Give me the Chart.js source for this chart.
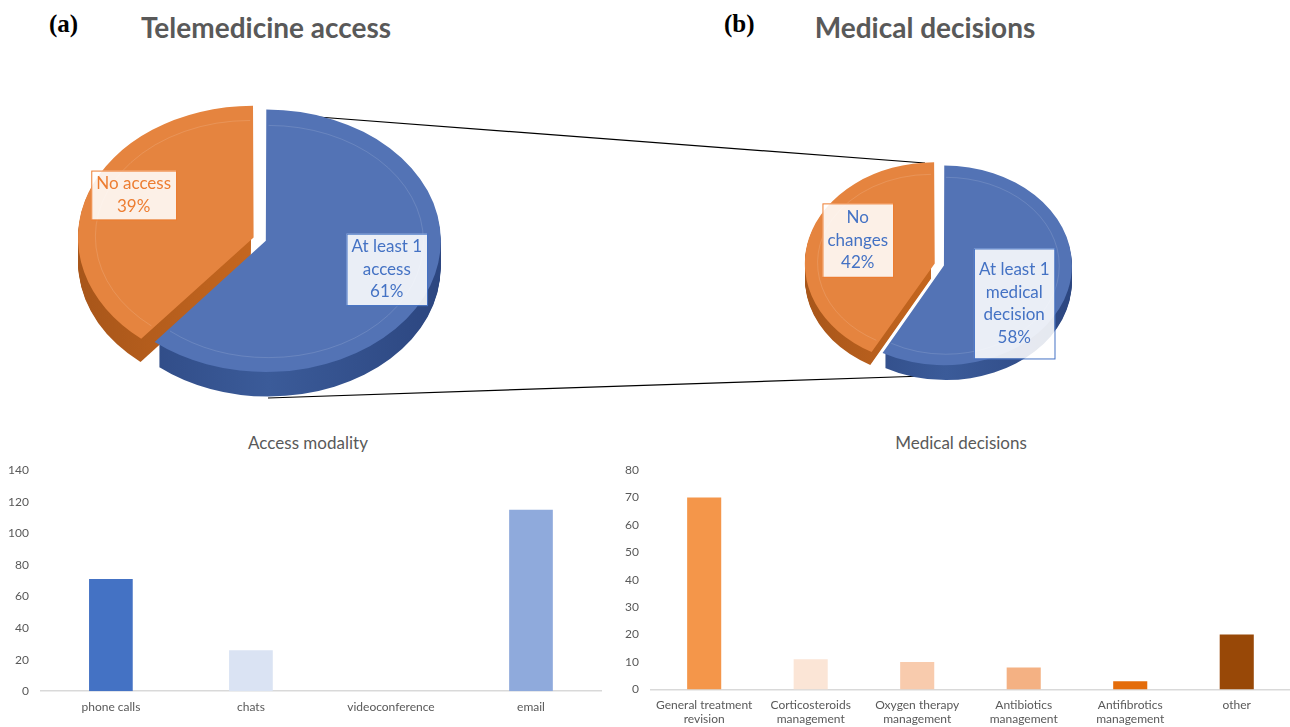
<!DOCTYPE html>
<html>
<head>
<meta charset="utf-8">
<script src="https://cdn.jsdelivr.net/npm/chart.js@4.4.0/dist/chart.umd.min.js"></script>
<style>
body { margin: 0; width: 1290px; height: 727px; overflow: hidden; background: #fff; position: relative; font-family: Lato, "Open Sans", sans-serif; }
.box { position: absolute; }
.tag { position: absolute; font-family: "Liberation Serif", serif; font-weight: bold; font-size: 25px; line-height: 28px; color: #000; }
.head { position: absolute; font-weight: bold; font-size: 28px; line-height: 34px; color: #595959; transform: translateX(-50%); white-space: nowrap; }
.sub { position: absolute; font-size: 17px; line-height: 20px; color: #595959; transform: translateX(-50%); white-space: nowrap; }
svg { position: absolute; left: 0; top: 0; }
</style>
</head>
<body>
<div class="tag" style="left:49px; top:10px;">(a)</div>
<div class="head" style="left:266px; top:10px;">Telemedicine access</div>
<div class="tag" style="left:724px; top:10px;">(b)</div>
<div class="head" style="left:925px; top:10px;">Medical decisions</div>

<svg width="1290" height="727">
  <line x1="318" y1="117" x2="925" y2="163" stroke="#000" stroke-width="1.2"/>
  <line x1="268" y1="398" x2="925" y2="376" stroke="#000" stroke-width="1.2"/>
</svg>

<div class="box" style="left:33px; top:60px;"><canvas id="pieA" width="460" height="360"></canvas></div>
<div class="box" style="left:792px; top:140px;"><canvas id="pieB" width="300" height="250"></canvas></div>

<div class="sub" style="left:308px; top:433px;">Access modality</div>
<div class="sub" style="left:961px; top:433px;">Medical decisions</div>
<div class="box" style="left:-4px; top:451px;"><canvas id="barA" width="614" height="276"></canvas></div>
<div class="box" style="left:613px; top:451px;"><canvas id="barB" width="677" height="284"></canvas></div>

<script>
// pie data
const pieALabels = [['At least 1', 'access'], ['No access']];
const pieAValues = [61, 39];
const pieBLabels = [['At least 1', 'medical', 'decision'], ['No', 'changes']];
const pieBValues = [58, 42];
const pieColors = ['#5373B5', '#E5843F'];
const pieSideColors = ['#3B5B99', '#C4661F'];

// bar data
const accessLabels = ['phone calls', 'chats', 'videoconference', 'email'];
const accessValues = [71, 26, 0, 115];
const accessColors = ['#4472C4', '#DAE3F3', '#2F5597', '#8FAADC'];
const accessTicks = [0, 20, 40, 60, 80, 100, 120, 140];

const decisionLabels = [['General treatment', 'revision'], ['Corticosteroids', 'management'], ['Oxygen therapy', 'management'], ['Antibiotics', 'management'], ['Antifibrotics', 'management'], 'other'];
const decisionValues = [70, 11, 10, 8, 3, 20];
const decisionColors = ['#F4964A', '#FBE5D6', '#F8CBAD', '#F4B183', '#E46C0A', '#984807'];
const decisionTicks = [0, 10, 20, 30, 40, 50, 60, 70, 80];

Chart.defaults.font.family = 'Lato, "Open Sans", sans-serif';
Chart.defaults.color = '#595959';

// same shift that the arc element uses for its offset
function arcShift(arc) {
  const o = (arc.options.offset || 0) / 4;
  const circ = arc.endAngle - arc.startAngle;
  const fix = 1 - Math.sin(Math.min(Math.PI, circ));
  const h = (arc.startAngle + arc.endAngle) / 2;
  return [Math.cos(h) * o * (1 + fix), Math.sin(h) * o * (1 + fix)];
}

const pie3d = {
  id: 'pie3d',
  beforeDatasetsDraw(chart, args, opts) {
    const ctx = chart.ctx;
    const arcs = chart.getDatasetMeta(0).data;
    const cx = arcs[0].x, cy = arcs[0].y;
    ctx.save();
    ctx.translate(cx, cy);
    ctx.scale(1, opts.tilt);
    ctx.translate(-cx, -cy);
    for (let d = opts.depth; d >= 1; d--) {
      arcs.forEach((arc, i) => {
        const s = arcShift(arc);
        const x = arc.x + s[0], y = arc.y + s[1] + d / opts.tilt;
        const g = ctx.createLinearGradient(x - arc.outerRadius, 0, x + arc.outerRadius, 0);
        g.addColorStop(0, opts.shade[i]);
        g.addColorStop(0.5, opts.side[i]);
        g.addColorStop(1, opts.shade[i]);
        ctx.beginPath();
        ctx.moveTo(x, y);
        ctx.arc(x, y, arc.outerRadius, arc.startAngle, arc.endAngle);
        ctx.closePath();
        ctx.fillStyle = g;
        ctx.fill();
      });
    }
  },
  afterDatasetsDraw(chart) {
    const ctx = chart.ctx;
    // faint bevel line on the top face
    chart.getDatasetMeta(0).data.forEach(arc => {
      const s = arcShift(arc);
      ctx.beginPath();
      ctx.arc(arc.x + s[0], arc.y + s[1], arc.outerRadius * 0.9, arc.startAngle, arc.endAngle);
      ctx.strokeStyle = 'rgba(255,255,255,0.15)';
      ctx.lineWidth = 1;
      ctx.stroke();
    });
    ctx.restore();
  },
  afterDraw(chart, args, opts) {
    const ctx = chart.ctx;
    const values = chart.data.datasets[0].data;
    const total = values.reduce((a, b) => a + b, 0);
    chart.getDatasetMeta(0).data.forEach((arc, i) => {
      const s = arcShift(arc);
      const h = (arc.startAngle + arc.endAngle) / 2;
      const r = arc.outerRadius * opts.labelRadius[i];
      const x = arc.x + s[0] + Math.cos(h) * r;
      const y = arc.y + (s[1] + Math.sin(h) * r) * opts.tilt + opts.labelDy[i];
      const lines = opts.lines[i].concat([Math.round(values[i] / total * 100) + '%']);
      ctx.font = '17px Lato, "Open Sans", sans-serif';
      const w = Math.max(...lines.map(t => ctx.measureText(t).width)) + 10;
      const lh = 22.5;
      const bh = lines.length * lh + 2 * opts.boxPad[i];
      ctx.fillStyle = 'rgba(255,255,255,0.88)';
      ctx.fillRect(x - w / 2, y - bh / 2, w, bh);
      ctx.strokeStyle = opts.boxColors[i];
      ctx.lineWidth = 1;
      ctx.strokeRect(x - w / 2 + 0.5, y - bh / 2 + 0.5, w, bh);
      ctx.fillStyle = opts.textColors[i];
      ctx.textAlign = 'center';
      ctx.textBaseline = 'middle';
      lines.forEach((t, k) => ctx.fillText(t, x, y - bh / 2 + opts.boxPad[i] + lh * (k + 0.5)));
    });
  }
};

function makePie(id, labels, values, cfg) {
  return new Chart(document.getElementById(id), {
    type: 'pie',
    data: {
      labels: labels.map(l => l.join(' ')),
      datasets: [{ data: values, backgroundColor: pieColors, borderWidth: 0, offset: cfg.offsets, clip: false }]
    },
    options: {
      responsive: false,
      animation: false,
      radius: cfg.radius,
      plugins: {
        legend: { display: false },
        tooltip: { enabled: false },
        pie3d: {
          tilt: cfg.tilt,
          depth: cfg.depth,
          side: pieSideColors,
          shade: ['#2C4680', '#A8561A'],
          lines: labels,
          labelRadius: cfg.labelRadius,
          labelDy: cfg.labelDy,
          boxPad: cfg.boxPad,
          boxColors: ['#4472C4', '#ED7D31'],
          textColors: cfg.textColors
        }
      }
    },
    plugins: [pie3d]
  });
}

makePie('pieA', pieALabels, pieAValues, {
  radius: 172, tilt: 0.75, depth: 26, offsets: [12, 40],
  labelRadius: [0.73, 0.72], labelDy: [-4, -10], boxPad: [2, 2],
  textColors: ['#4472C4', '#ED7D31']
});
makePie('pieB', pieBLabels, pieBValues, {
  radius: 126, tilt: 0.78, depth: 16, offsets: [8, 30],
  labelRadius: [0.56, 0.6], labelDy: [24, -8], boxPad: [10, 3],
  textColors: ['#4472C4', '#4472C4']
});

function makeBar(id, labels, values, colors, ticks, barPct, pad) {
  return new Chart(document.getElementById(id), {
    type: 'bar',
    data: {
      labels: labels,
      datasets: [{ data: values, backgroundColor: colors, borderWidth: 0, categoryPercentage: 0.8, barPercentage: barPct }]
    },
    options: {
      responsive: false,
      animation: false,
      layout: { padding: pad },
      plugins: { legend: { display: false }, tooltip: { enabled: false } },
      scales: {
        x: {
          grid: { display: false, drawTicks: false },
          border: { color: '#D9D9D9', width: 1.5 },
          ticks: { color: '#595959', font: { size: 12, lineHeight: 1.15 }, padding: 9, maxRotation: 0, autoSkip: false }
        },
        y: {
          min: ticks[0],
          max: ticks[ticks.length - 1],
          grid: { display: false, drawTicks: false },
          border: { display: false },
          ticks: { stepSize: ticks[1] - ticks[0], color: '#595959', font: { size: 12 }, padding: 12 }
        }
      }
    }
  });
}

makeBar('barA', accessLabels, accessValues, accessColors, accessTicks, 0.39, { left: 0, right: 9, top: 1, bottom: 4 });
makeBar('barB', decisionLabels, decisionValues, decisionColors, decisionTicks, 0.4, { left: 0, right: 0, top: 1, bottom: 0 });
</script>
</body>
</html>
